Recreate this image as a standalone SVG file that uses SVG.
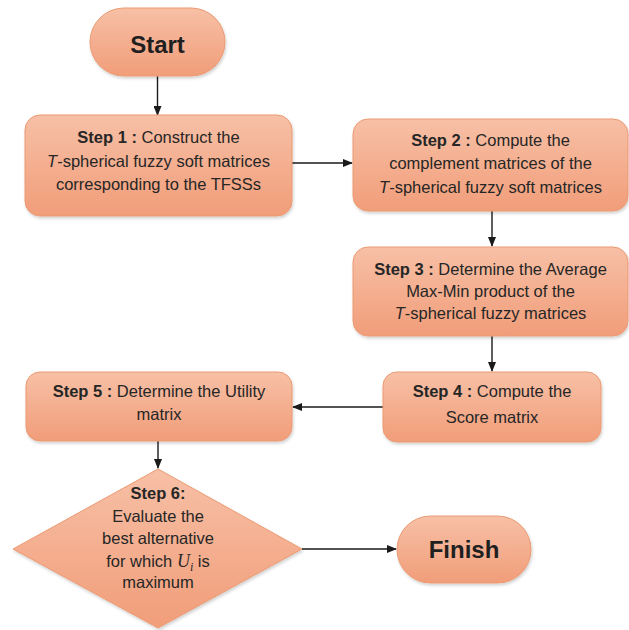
<svg xmlns="http://www.w3.org/2000/svg" width="629" height="630" viewBox="0 0 629 630">
<defs>
<linearGradient id="g" x1="0" y1="0" x2="0" y2="1">
<stop offset="0" stop-color="#f7c0a6"/>
<stop offset="1" stop-color="#f19d79"/>
</linearGradient>
<filter id="sh" x="-10%" y="-10%" width="120%" height="130%">
<feDropShadow dx="1" dy="2" stdDeviation="1.5" flood-color="#000" flood-opacity="0.18"/>
</filter>
<marker id="ah" markerWidth="10" markerHeight="8" refX="9" refY="4" orient="auto" markerUnits="userSpaceOnUse">
<path d="M0,0 L10,4 L0,8 Z" fill="#1a1a1a"/>
</marker>
</defs>
<style>
.n{fill:url(#g);stroke:#eb9a72;stroke-width:1;filter:url(#sh)}
.t{font-family:"Liberation Sans",Arial,sans-serif;font-size:16.5px;fill:#262626;text-anchor:middle}
.b{font-weight:bold}
.big{font-family:"Liberation Sans",Arial,sans-serif;font-size:24px;font-weight:bold;fill:#1f1f1f;text-anchor:middle}
.c{stroke:#1a1a1a;stroke-width:1.4;fill:none;marker-end:url(#ah)}
.m{font-family:"Liberation Serif","Times New Roman",serif;font-style:italic}
</style>
<rect width="629" height="630" fill="#fff"/>
<g id="connectors">
<line class="c" x1="157.5" y1="76" x2="157.5" y2="115"/>
<line class="c" x1="292" y1="163" x2="352" y2="163"/>
<line class="c" x1="492" y1="211" x2="492" y2="246"/>
<line class="c" x1="492" y1="336" x2="492" y2="371"/>
<line class="c" x1="383" y1="407" x2="293" y2="407"/>
<line class="c" x1="158" y1="441" x2="158" y2="468"/>
<line class="c" x1="302" y1="549" x2="396" y2="549"/>
</g>
<g id="start">
<rect class="n" x="90" y="8" width="135" height="68" rx="34"/>
<text class="big" x="157.5" y="53" font-size="25">Start</text>
</g>
<g id="step1">
<rect class="n" x="25" y="115" width="267" height="101" rx="15"/>
<text class="t" x="158.5" y="143"><tspan class="b">Step 1 :</tspan> Construct the</text>
<text class="t" x="158.5" y="167"><tspan font-style="italic">T</tspan>-spherical fuzzy soft matrices</text>
<text class="t" x="158.5" y="190">corresponding to the TFSSs</text>
</g>
<g id="step2">
<rect class="n" x="353" y="119" width="275" height="92" rx="15"/>
<text class="t" x="490.5" y="146"><tspan class="b">Step 2 :</tspan> Compute the</text>
<text class="t" x="490.5" y="169">complement matrices of the</text>
<text class="t" x="490.5" y="193"><tspan font-style="italic">T</tspan>-spherical fuzzy soft matrices</text>
</g>
<g id="step3">
<rect class="n" x="353" y="247" width="275" height="89" rx="15"/>
<text class="t" x="490.5" y="275"><tspan class="b">Step 3 :</tspan> Determine the Average</text>
<text class="t" x="490.5" y="297">Max-Min product of the</text>
<text class="t" x="490.5" y="319"><tspan font-style="italic">T</tspan>-spherical fuzzy matrices</text>
</g>
<g id="step4">
<rect class="n" x="383" y="372" width="218" height="70" rx="14"/>
<text class="t" x="492" y="397"><tspan class="b">Step 4 :</tspan> Compute the</text>
<text class="t" x="492" y="423">Score matrix</text>
</g>
<g id="step5">
<rect class="n" x="26" y="372" width="266" height="69" rx="14"/>
<text class="t" x="159" y="397"><tspan class="b">Step 5 :</tspan> Determine the Utility</text>
<text class="t" x="159" y="420">matrix</text>
</g>
<g id="step6">
<polygon class="n" points="158,469 302,549 158,628 13,549"/>
<text class="t b" x="158" y="499">Step 6:</text>
<text class="t" x="158" y="522">Evaluate the</text>
<text class="t" x="158" y="544">best alternative</text>
<text class="t" x="158" y="567">for which <tspan class="m" font-size="18">U</tspan><tspan class="m" font-size="12" dy="4">i</tspan><tspan dy="-4"> is</tspan></text>
<text class="t" x="158" y="588">maximum</text>
</g>
<g id="finish">
<rect class="n" x="397" y="516" width="134" height="67" rx="33.5"/>
<text class="big" x="464" y="558">Finish</text>
</g>
</svg>
